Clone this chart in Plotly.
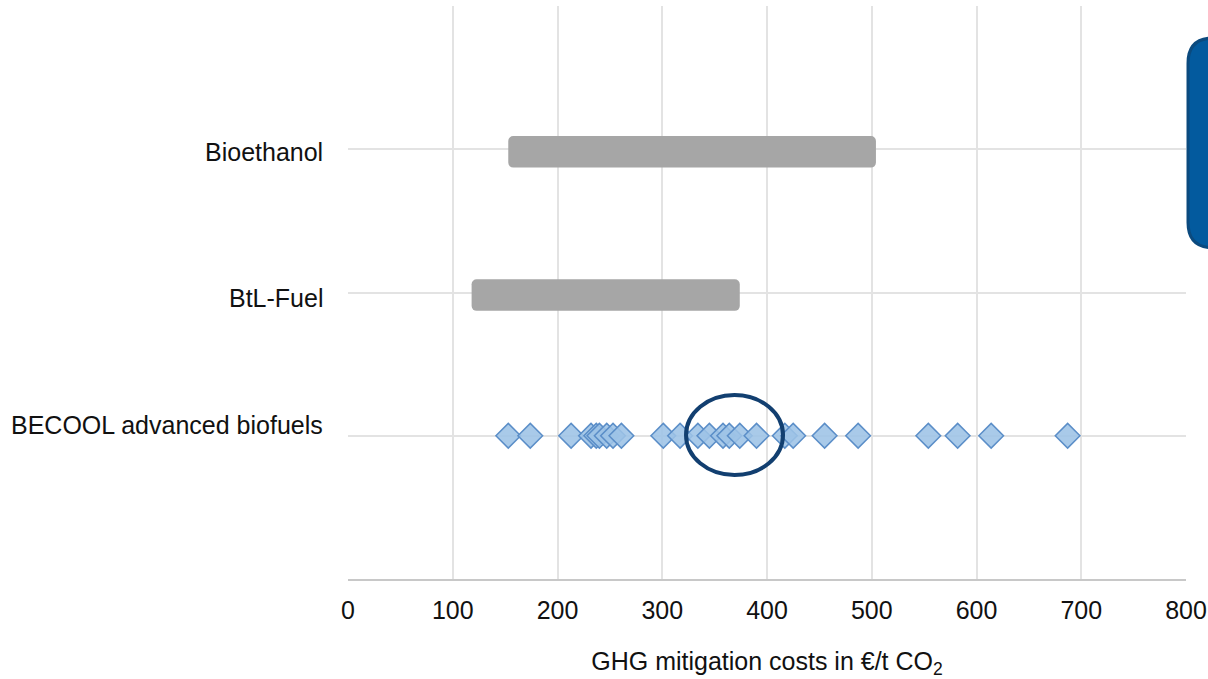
import plotly.graph_objects as go

# ---- data ----
categories = ["Bioethanol", "BtL-Fuel", "BECOOL advanced biofuels"]
cat_pos = [3, 2, 1]
range_start = [153, 118]   # Bioethanol, BtL-Fuel
range_end = [504, 374]
becool_costs = [153, 174, 213, 232, 237, 240, 247, 253, 261, 301, 317, 334,
                345, 358, 364, 374, 390, 417, 425, 455, 487, 554, 582, 614, 687]
x_ticks = [0, 100, 200, 300, 400, 500, 600, 700, 800]

FONT = "Liberation Sans, Arial, sans-serif"
TXT = "#111111"

fig = go.Figure()

fig.add_trace(go.Bar(
    y=cat_pos[:2],
    x=[e - s for s, e in zip(range_start, range_end)],
    base=range_start,
    orientation="h",
    width=0.22,
    offset=-0.128,
    marker=dict(color="#a6a6a6", line=dict(width=0)),
    hoverinfo="skip",
))

fig.add_trace(go.Scatter(
    x=becool_costs,
    y=[cat_pos[2]] * len(becool_costs),
    mode="markers",
    marker=dict(symbol="diamond", size=19,
                color="rgba(157,195,230,0.88)",
                line=dict(color="#5b8ec8", width=1.5)),
    hoverinfo="skip",
))

# category labels
label_y = [2.98, 1.96, 1.075]
for name, yv in zip(categories, label_y):
    fig.add_annotation(x=-0.027, xref="paper", y=yv, yref="y",
                       text=name, showarrow=False, xanchor="right",
                       yanchor="middle",
                       font=dict(family=FONT, size=25, color=TXT))

# highlight ellipse
fig.add_shape(type="circle", xref="x", yref="y",
              x0=322.7, x1=415.3, y0=0.726, y1=1.284,
              line=dict(color="#123f70", width=4), fillcolor="rgba(0,0,0,0)")

# blue rounded box (partly off-canvas)
x0, x1, y0, y1 = 1.0024, 1.06, 0.578, 0.944
rx, ry = 0.03, 0.044
path = (f"M {x0+rx},{y1} L {x1},{y1} L {x1},{y0} L {x0+rx},{y0} "
        f"Q {x0},{y0} {x0},{y0+ry} L {x0},{y1-ry} Q {x0},{y1} {x0+rx},{y1} Z")
fig.add_shape(type="path", xref="paper", yref="paper", path=path,
              fillcolor="#035a9e", line=dict(color="#0b4a7e", width=3))

fig.update_layout(
    width=1214, height=679,
    margin=dict(l=348, r=28, t=6, b=100),
    paper_bgcolor="white", plot_bgcolor="white",
    showlegend=False,
    barcornerradius=5,
    xaxis=dict(range=[0, 800], tickvals=x_ticks,
               ticktext=[str(v) for v in x_ticks],
               showgrid=True, gridcolor="#e3e3e3", gridwidth=2,
               zeroline=False, showline=True, linecolor="#c8c8c8", linewidth=2,
               ticks="", ticklabelstandoff=8,
               tickfont=dict(family=FONT, size=25, color=TXT),
               title=dict(text="GHG mitigation costs in €/t CO<sub>2</sub>",
                          font=dict(family=FONT, size=25, color=TXT),
                          standoff=29)),
    yaxis=dict(range=[0, 4], tickvals=[0, 1, 2, 3, 4], showticklabels=False,
               showgrid=True, gridcolor="#e3e3e3", gridwidth=2,
               zeroline=False, showline=False, ticks="", automargin=False),
)

fig.write_html("out.html",
               config={"displayModeBar": False},
               post_script="document.body.style.margin='0';document.body.style.overflow='hidden';")
